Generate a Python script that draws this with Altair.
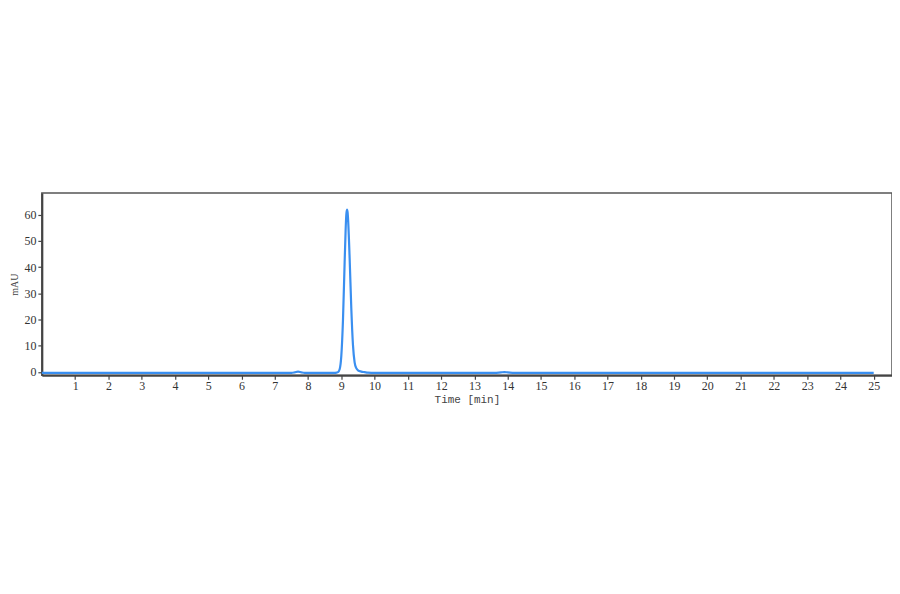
import altair as alt
import pandas as pd

# Chromatogram trace (time in min, absorbance in mAU)
time_min = [0.0, 1.0, 2.0, 3.0, 4.0, 5.0, 6.0, 7.0, 7.5, 7.6, 7.7, 7.8, 7.9, 8.2, 8.6, 8.8,
            8.85, 8.90, 8.95, 9.00, 9.05, 9.10, 9.13, 9.15, 9.17, 9.19, 9.20, 9.25, 9.30,
            9.35, 9.40, 9.45, 9.50, 9.60, 9.70, 9.80, 10.0, 11.0, 12.0, 13.0, 13.6, 13.8,
            13.9, 14.0, 14.2, 15.0, 16.0, 17.0, 18.0, 19.0, 20.0, 21.0, 22.0, 23.0, 24.0, 25.0]
mau = [-0.4, -0.4, -0.4, -0.4, -0.4, -0.4, -0.4, -0.4, -0.4, -0.2, 0.1, -0.2, -0.4, -0.4, -0.4, -0.4,
       -0.3, -0.1, 1.0, 6.1, 19.8, 41.9, 54.3, 60.0, 62.0, 60.8, 59.0, 43.5, 24.3,
       10.3, 3.6, 1.4, 0.6, 0.1, -0.1, -0.3, -0.4, -0.4, -0.4, -0.4, -0.4, -0.2,
       -0.1, -0.2, -0.4, -0.4, -0.4, -0.4, -0.4, -0.4, -0.4, -0.4, -0.4, -0.4, -0.4, -0.4]

x_ticks = list(range(1, 26))
y_ticks = [0, 10, 20, 30, 40, 50, 60]

df = pd.DataFrame({"t": time_min, "a": mau})

serif = "Liberation Serif"
mono = "Liberation Mono"

chart = alt.Chart(df).mark_line(color="#3a8ff0", strokeWidth=2.2, interpolate="monotone").encode(
    x=alt.X("t:Q",
            scale=alt.Scale(domain=[0, 25.55], nice=False, zero=False),
            axis=alt.Axis(values=x_ticks, title="Time [min]", grid=False,
                          labelFont=serif, labelFontSize=12, labelColor="#333",
                          titleFont=mono, titleFontSize=11, titleFontWeight="normal",
                          titleColor="#444", titlePadding=2,
                          tickSize=4, tickColor="#444", tickWidth=1.2,
                          domainColor="#444", domainWidth=2, labelPadding=1)),
    y=alt.Y("a:Q",
            scale=alt.Scale(domain=[-1.3, 68.3], nice=False, zero=False),
            axis=alt.Axis(values=y_ticks, title="mAU", grid=False,
                          labelFont=serif, labelFontSize=12, labelColor="#333",
                          titleFont=serif, titleFontSize=10, titleFontWeight="normal",
                          titleColor="#444", titlePadding=4,
                          tickSize=4, tickColor="#444", tickWidth=1.2,
                          domainColor="#444", domainWidth=2, labelPadding=2)),
).properties(
    width=854, height=183,
    background="white",
    autosize=alt.AutoSizeParams(type="none"),
    padding={"left": 34, "top": 185, "right": 0, "bottom": 40},
).configure_view(
    stroke="#555", strokeWidth=1.5
)

chart.save("out.html", embed_options={"renderer": "svg", "actions": False})
